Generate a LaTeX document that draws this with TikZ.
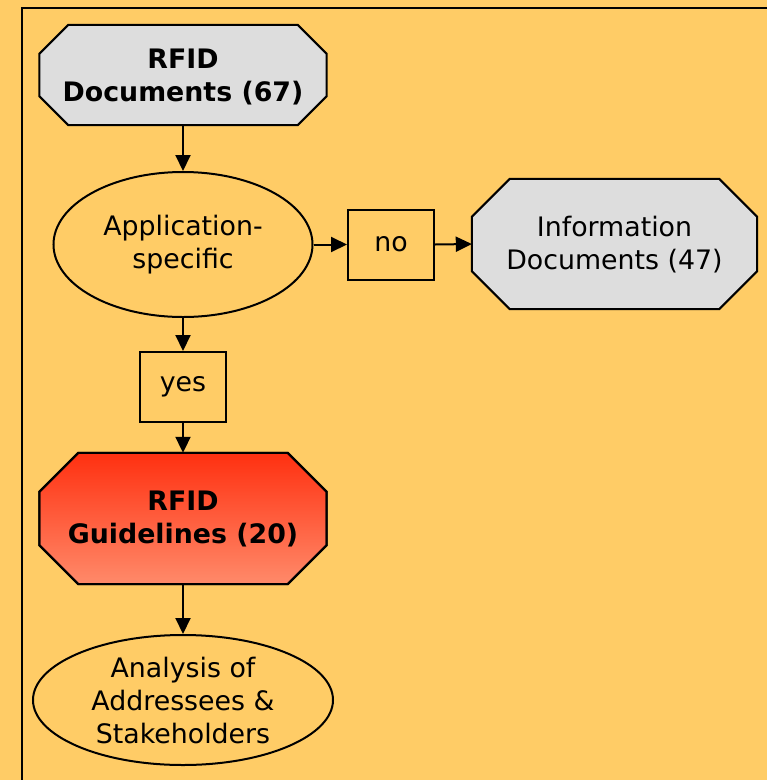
\documentclass[tikz,border=0pt]{standalone}
\usepackage{fontspec}
\setmainfont{DejaVu Sans}
\usetikzlibrary{shapes.geometric,arrows.meta}
\definecolor{bgc}{RGB}{255,204,102}
\definecolor{grayfill}{RGB}{221,221,221}
\definecolor{redtop}{RGB}{255,48,16}
\definecolor{redbot}{RGB}{255,138,106}
\tikzset{
  txt/.style={font=\fontsize{26.8}{33}\selectfont, align=center, text=black, inner sep=0pt},
  boldtxt/.style={txt, font=\fontsize{26.8}{33}\selectfont\bfseries},
  box/.style={txt, draw, line width=2pt, rectangle, minimum width=86pt, minimum height=70pt},
  oval/.style={txt, draw, line width=2pt, ellipse},
  arr/.style={line width=2pt, -{Triangle[length=16pt,width=15pt]}},
  octline/.style={draw, line width=2pt, line join=miter}
}
\newcommand\octpath[3]{% node name, cut, style
  \path[#3] ([xshift=#2]#1.north west) -- ([xshift=-#2]#1.north east)
    -- ([yshift=-#2]#1.north east) -- ([yshift=#2]#1.south east)
    -- ([xshift=-#2]#1.south east) -- ([xshift=#2]#1.south west)
    -- ([yshift=#2]#1.south west) -- ([yshift=-#2]#1.north west) -- cycle;}
\begin{document}
\begin{tikzpicture}[x=1pt,y=-1pt]
\fill[bgc] (0,0) rectangle (767,780);
\useasboundingbox (0,0) rectangle (767,780);
\draw[line width=2pt] (22,790) -- (22,8) -- (780,8);

% nodes (text holders)
\node[boldtxt, minimum width=287pt, minimum height=100pt] (docs) at (183,75) {};
\node[boldtxt, minimum width=287pt, minimum height=131pt] (guide) at (183,518.5) {};
\node[txt, minimum width=285pt, minimum height=130pt] (info) at (614.5,244) {};

\octpath{docs}{29pt}{octline, fill=grayfill}
\octpath{info}{38pt}{octline, fill=grayfill}
\octpath{guide}{39pt}{octline, top color=redtop, bottom color=redbot}
\octpath{guide}{39pt}{octline}

\node[boldtxt] at ([yshift=-2pt]docs.center) {RFID\\Documents (67)};
\node[txt] at ([yshift=-1pt]info.center) {Information\\Documents (47)};
\node[boldtxt] at (guide) {RFID\\Guidelines (20)};

\node[oval, minimum width=259pt, minimum height=145pt] (app) at (183,244.5) {Application-\\specific};
\node[box] (no) at (391,244.5) {no};
\node[box] (yes) at (183,387) {yes};
\node[oval, minimum width=300pt, minimum height=130pt] (anal) at (183,700) {Analysis of\\Addressees \&\\Stakeholders};

\draw[arr] (docs.south) -- (app.north);
\draw[arr] (app.east) -- (no.west);
\draw[arr] (no.east) -- (info.west);
\draw[arr] (app.south) -- (yes.north);
\draw[arr] (yes.south) -- (guide.north);
\draw[arr] (guide.south) -- (anal.north);
\end{tikzpicture}
\end{document}
